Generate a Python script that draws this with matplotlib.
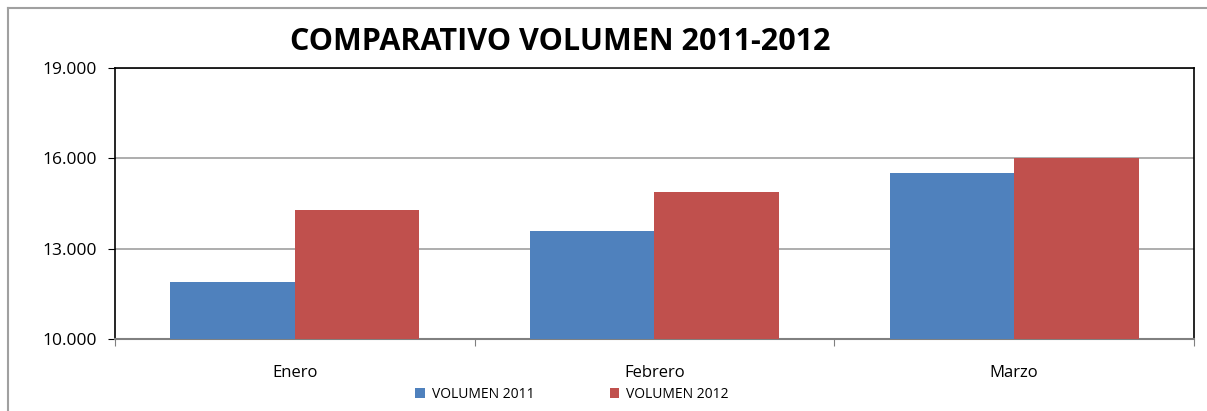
import matplotlib
matplotlib.use('Agg')
import matplotlib.pyplot as plt
from matplotlib.lines import Line2D
import numpy as np

meses = ["Enero", "Febrero", "Marzo"]
vol_2011 = [11880, 13600, 15510]
vol_2012 = [14290, 14870, 16010]
y_ticks = [10000, 13000, 16000, 19000]

plt.rcParams['font.family'] = ['Open Sans', 'DejaVu Sans']

fig = plt.figure(figsize=(12.07, 4.11), dpi=100)
ax = fig.add_axes([0.0953, 0.1752, 0.8939, 0.6593])

x = np.arange(len(meses))
w = 0.3465
ax.bar(x - w / 2, vol_2011, w, color="#4F81BD", label="VOLUMEN 2011", zorder=3)
ax.bar(x + w / 2, vol_2012, w, color="#C0504D", label="VOLUMEN 2012", zorder=3)

ax.set_xlim(-0.5, len(meses) - 0.5)
ax.set_ylim(10000, 19000)
ax.set_yticks(y_ticks)
ax.set_yticklabels([f"{v:,}".replace(",", ".") for v in y_ticks], fontsize=12.5)
ax.yaxis.grid(True, color="#A0A0A0", linewidth=1.2, zorder=0)

# ticks de categoria en los bordes
ax.set_xticks(np.arange(len(meses) + 1) - 0.5)
ax.set_xticklabels([])
ax.tick_params(axis='x', length=5, color="#808080", direction='out')
ax.tick_params(axis='y', length=5, color="black", direction='out', pad=8)
for i, m in enumerate(meses):
    ax.text(i, 8880, m, ha='center', va='center', fontsize=12,
            transform=ax.transData)

for s in ['left', 'top', 'right']:
    ax.spines[s].set_color('black')
    ax.spines[s].set_linewidth(1.2)
ax.spines['bottom'].set_color('#808080')
ax.spines['bottom'].set_linewidth(1.5)

fig.text(0.464, 0.897, "COMPARATIVO VOLUMEN 2011-2012", ha='center', va='center',
         fontsize=22, fontweight='bold')

fig.legend(loc='center', bbox_to_anchor=(0.474, 0.041), ncol=2, frameon=False,
           fontsize=10, handlelength=0.7, handleheight=0.7, columnspacing=5.4,
           handletextpad=0.5)

# borde del area del grafico
fig.add_artist(Line2D([0.0066, 0.0066], [0, 0.981], color="#A0A0A0", linewidth=1.5))
fig.add_artist(Line2D([0.0066, 1.0], [0.981, 0.981], color="#A0A0A0", linewidth=1.5))

fig.savefig("out.png", dpi=100)
